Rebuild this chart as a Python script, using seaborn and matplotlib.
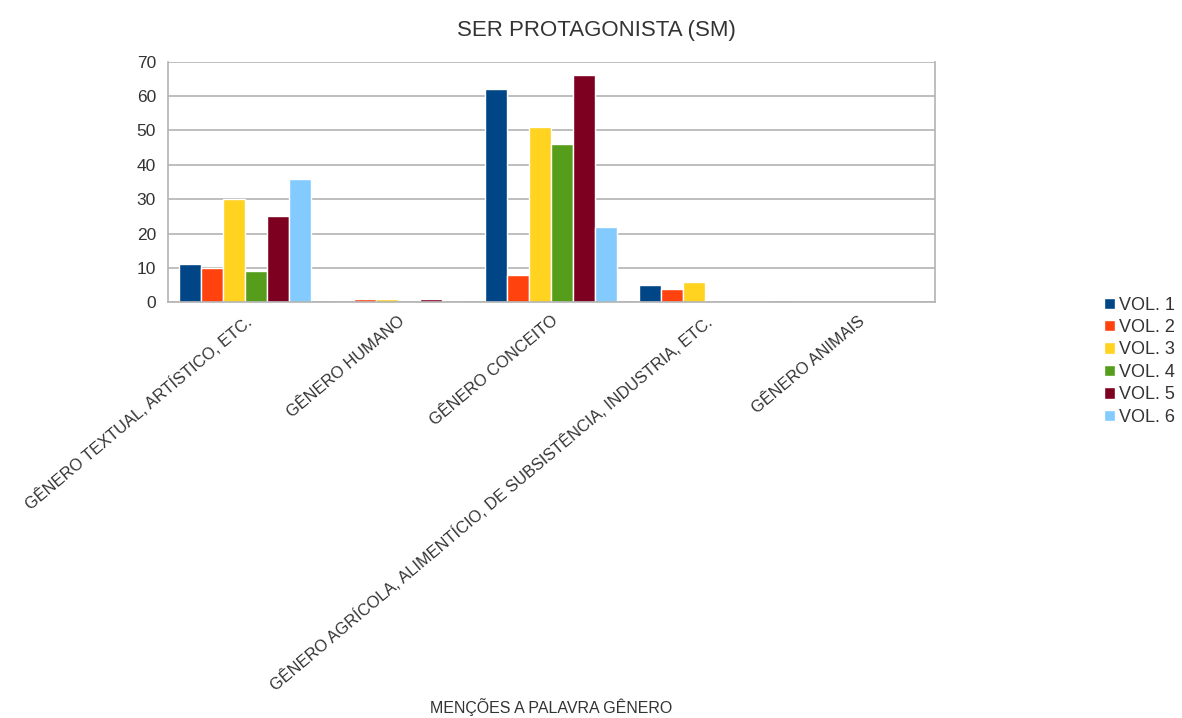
import matplotlib
matplotlib.use("Agg")
import matplotlib.pyplot as plt
import seaborn as sns
import pandas as pd
import numpy as np

categories = ["GÊNERO TEXTUAL, ARTÍSTICO, ETC.", "GÊNERO HUMANO", "GÊNERO CONCEITO",
              "GÊNERO AGRÍCOLA, ALIMENTÍCIO, DE SUBSISTÊNCIA, INDUSTRIA, ETC.", "GÊNERO ANIMAIS"]
series = ["VOL. 1", "VOL. 2", "VOL. 3", "VOL. 4", "VOL. 5", "VOL. 6"]
vol1 = [11, 0, 62, 5, 0]
vol2 = [10, 1, 8, 4, 0]
vol3 = [30, 1, 51, 6, 0]
vol4 = [9, 0, 46, 0, 0]
vol5 = [25, 1, 66, 0, 0]
vol6 = [36, 0, 22, 0, 0]
colors = ["#004586", "#ff420e", "#ffd320", "#579d1c", "#7e0021", "#83caff"]

values = [vol1, vol2, vol3, vol4, vol5, vol6]
rows = []
for s, vals in zip(series, values):
    for c, v in zip(categories, vals):
        rows.append({"cat": c, "vol": s, "val": v})
df = pd.DataFrame(rows)

sns.set_style("white")
plt.rcParams["font.family"] = ["Liberation Sans", "DejaVu Sans"]

fig = plt.figure(figsize=(11.82, 7.18), dpi=100)
ax = fig.add_axes([0.142, 0.579, 0.649, 0.335])
sns.barplot(data=df, x="cat", y="val", hue="vol", palette=colors, order=categories,
            hue_order=series, width=0.86, saturation=1, ax=ax, errorbar=None)

ax.set_ylim(0, 70)
ax.set_xlim(-0.5, len(categories) - 0.5)
ax.set_yticks(range(0, 71, 10))
ax.yaxis.grid(True, color="#b3b3b3", linewidth=1.2)
ax.set_axisbelow(True)
for sp in ax.spines.values():
    sp.set_color("#b3b3b3")
    sp.set_linewidth(1.2)
ax.spines["top"].set_visible(False)

ax.set_xticks(range(len(categories)))
ax.set_xticklabels(categories, rotation=40, ha="right", rotation_mode="anchor", fontsize=11.8, color="#333333")
ax.set_xticks(np.arange(-0.5, len(categories), 1), minor=True)
ax.tick_params(axis="x", which="major", length=0, pad=8)
ax.tick_params(axis="x", which="minor", length=5, color="#b3b3b3", width=1.2)
ax.tick_params(axis="y", length=5, color="#b3b3b3", width=1.2, labelsize=12.5, labelcolor="#333333")

ax.set_xlabel("")
ax.set_ylabel("")
fig.text(0.466, 0.003, "MENÇÕES A PALAVRA GÊNERO", ha="center", va="bottom", fontsize=11.5, color="#333333")
fig.text(0.505, 0.958, "SER PROTAGONISTA (SM)", ha="center", va="center", fontsize=16, color="#333333")

h, l = ax.get_legend_handles_labels()
ax.get_legend().remove()
fig.legend(h, l, loc="center left", bbox_to_anchor=(0.92, 0.497), frameon=False,
           fontsize=13, handlelength=0.6, handleheight=0.6, handletextpad=0.25,
           labelspacing=0.3, labelcolor="#333333")

fig.savefig("out.png", dpi=100)
